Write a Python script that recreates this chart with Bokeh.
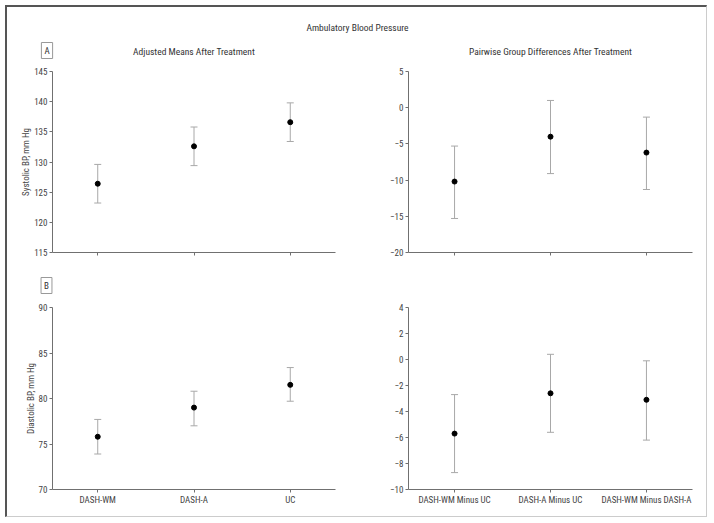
from bokeh.plotting import figure
from bokeh.models import ColumnDataSource, Whisker, TeeHead, Range1d, FixedTicker, Label
from bokeh.layouts import column, row
from bokeh.embed import file_html
from bokeh.resources import INLINE

FONT = "'Roboto Condensed', 'DejaVu Sans Condensed', 'Liberation Sans Narrow', 'Liberation Sans', sans-serif"

main_title = "Ambulatory Blood Pressure"
left_title = "Adjusted Means After Treatment"
right_title = "Pairwise Group Differences After Treatment"
panel_tags = ["A", "B"]

groups = ["DASH-WM", "DASH-A", "UC"]
pairs = ["DASH-WM Minus UC", "DASH-A Minus UC", "DASH-WM Minus DASH-A"]

# Panel A: systolic
sbp_mean = [126.4, 132.6, 136.6]
sbp_lower = [123.2, 129.4, 133.4]
sbp_upper = [129.6, 135.8, 139.8]
sbp_diff = [-10.2, -4.0, -6.2]
sbp_diff_lower = [-15.3, -9.1, -11.3]
sbp_diff_upper = [-5.3, 1.0, -1.3]
sbp_ticks = [115, 120, 125, 130, 135, 140, 145]
sbp_diff_ticks = [-20, -15, -10, -5, 0, 5]

# Panel B: diastolic
dbp_mean = [75.8, 79.0, 81.5]
dbp_lower = [73.9, 77.0, 79.7]
dbp_upper = [77.7, 80.8, 83.4]
dbp_diff = [-5.7, -2.6, -3.1]
dbp_diff_lower = [-8.7, -5.6, -6.2]
dbp_diff_upper = [-2.7, 0.4, -0.1]
dbp_ticks = [70, 75, 80, 85, 90]
dbp_diff_ticks = [-10, -8, -6, -4, -2, 0, 2, 4]

TOTAL_W = 699
LEFT_W, RIGHT_W = 350, 349


def minus(v):
    return str(v).replace("-", "\u2212")


def strip(height):
    s = figure(width=TOTAL_W, height=height, output_backend="svg", toolbar_location=None,
               x_range=Range1d(0, TOTAL_W), y_range=Range1d(height, 0),
               x_axis_location=None, y_axis_location=None, min_border=0)
    s.outline_line_color = None
    s.xgrid.visible = False
    s.ygrid.visible = False
    return s


def text_label(x, y, text, size="9.5px", boxed=False):
    kw = dict(x=x, y=y, text=text, text_font=FONT, text_font_size=size,
              text_color="#333333", text_align="center", text_baseline="middle")
    if boxed:
        kw.update(border_line_color="#999999", background_fill_color="white", padding=3)
    return Label(**kw)


def panel(cats, mean, lo, hi, ticks, width, height, mb, ylabel=None, show_x=False, xpad=0.47):
    left, right, top, bottom = mb
    p = figure(width=width, height=height, output_backend="svg", toolbar_location=None,
               x_range=Range1d(-xpad, len(cats) - 1 + xpad),
               y_range=Range1d(ticks[0], ticks[-1]),
               min_border_left=left, min_border_right=right,
               min_border_top=top, min_border_bottom=bottom)
    p.outline_line_color = None
    p.xgrid.visible = False
    p.ygrid.visible = False
    xs = list(range(len(cats)))
    src = ColumnDataSource(dict(x=xs, mean=mean, lo=lo, hi=hi))
    w = Whisker(base="x", upper="hi", lower="lo", source=src,
                line_color="#a8a8a8", line_width=1,
                upper_head=TeeHead(size=7, line_color="#a8a8a8", line_width=1),
                lower_head=TeeHead(size=7, line_color="#a8a8a8", line_width=1))
    p.add_layout(w)
    p.scatter("x", "mean", source=src, size=5, color="black")

    for ax in (p.xaxis[0], p.yaxis[0]):
        ax.axis_line_color = "#707070"
        ax.major_tick_line_color = "#707070"
        ax.minor_tick_line_color = None
        ax.major_tick_in = 0
        ax.major_tick_out = 3
        ax.major_label_standoff = 2
        ax.major_label_text_font = FONT
        ax.major_label_text_font_size = "9px"
        ax.major_label_text_color = "#444444"
    p.xaxis.ticker = FixedTicker(ticks=xs)
    p.xaxis.major_label_overrides = {i: (c if show_x else "") for i, c in enumerate(cats)}
    p.yaxis.ticker = FixedTicker(ticks=ticks)
    p.yaxis.major_label_overrides = {t: minus(t) for t in ticks}
    if ylabel:
        p.yaxis.axis_label = ylabel
        p.yaxis.axis_label_text_font = FONT
        p.yaxis.axis_label_text_font_size = "9px"
        p.yaxis.axis_label_text_font_style = "normal"
        p.yaxis.axis_label_text_color = "#444444"
        p.yaxis.axis_label_standoff = 0
    return p


# header strip: main title, panel tag A and the two column titles
header = strip(55)
header.add_layout(text_label(350, 20, main_title))
header.add_layout(text_label(39.5, 43, panel_tags[0], size="9px", boxed=True))
header.add_layout(text_label(186.5, 44, left_title))
header.add_layout(text_label(543, 44, right_title))

# middle strip: panel tag B
middle = strip(28)
middle.add_layout(text_label(39, 13, panel_tags[1], size="9px", boxed=True))

pa = panel(groups, sbp_mean, sbp_lower, sbp_upper, sbp_ticks, LEFT_W, 210, (45, 22, 9, 20),
           ylabel="Systolic BP, mm Hg")
pb = panel(pairs, sbp_diff, sbp_diff_lower, sbp_diff_upper, sbp_diff_ticks, RIGHT_W, 210, (51, 14, 9, 20),
           xpad=0.48)
pc = panel(groups, dbp_mean, dbp_lower, dbp_upper, dbp_ticks, LEFT_W, 216, (45, 22, 7, 27),
           ylabel="Diastolic BP, mm Hg", show_x=True)
pd_ = panel(pairs, dbp_diff, dbp_diff_lower, dbp_diff_upper, dbp_diff_ticks, RIGHT_W, 216, (51, 14, 7, 27),
            show_x=True, xpad=0.48)

layout = column(header, row(pa, pb), middle, row(pc, pd_),
                styles={"margin": "5px 0 0 5px",
                        "border-left": "2px solid #555555", "border-top": "2px solid #555555",
                        "border-right": "1px solid #cccccc", "border-bottom": "1px solid #cccccc"})

open("out.html", "w").write(file_html(layout, INLINE))
